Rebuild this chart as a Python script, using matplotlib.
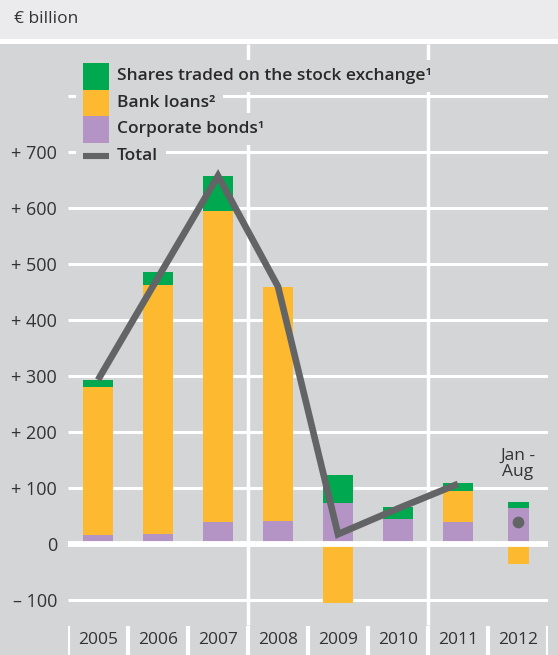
import matplotlib
matplotlib.use("Agg")
import matplotlib.pyplot as plt
from matplotlib.patches import Rectangle
from matplotlib.lines import Line2D
import numpy as np

plt.rcParams['font.family'] = ['Open Sans', 'DejaVu Sans']

# ---- data ----
years = ["2005", "2006", "2007", "2008", "2009", "2010", "2011", "2012"]
corporate_bonds = [16, 17, 39, 41, 72, 44, 39, 64]
bank_loans = [264, 446, 557, 418, -106, 0, 55, -36]
shares = [13, 23, 61, 0, 51, 21, 14, 11]
total_line = [293, 476, 658, 460, 17, 63, 107]   # 2005-2011
total_2012 = 38
yticks = [-100, 0, 100, 200, 300, 400, 500, 600, 700]
ytick_labels = ["\u2013 100", "0", "+ 100", "+ 200", "+ 300", "+ 400", "+ 500", "+ 600", "+ 700"]
legend_labels = ["Shares traded on the stock exchange\u00b9", "Bank loans\u00b2",
                 "Corporate bonds\u00b9", "Total"]

# ---- style ----
W, H = 558, 655
C_GREEN = "#00a84f"
C_ORANGE = "#fdb92f"
C_PURPLE = "#b394c4"
C_LINE = "#636466"
C_BG = "#d4d5d7"
C_HEAD = "#ebebed"
C_TEXT = "#333333"
FS = 12.5

fig = plt.figure(figsize=(W / 100, H / 100), dpi=100)
fig.patch.set_facecolor("white")

def fx(px):
    return px / W

def fy(py):
    return 1 - py / H

# backgrounds
fig.patches.append(Rectangle((0, fy(39)), 1, 39 / H, transform=fig.transFigure,
                             facecolor=C_HEAD, edgecolor="none", zorder=-10))
fig.patches.append(Rectangle((0, 0), 1, (H - 44) / H, transform=fig.transFigure,
                             facecolor=C_BG, edgecolor="none", zorder=-10))
fig.text(fx(14), fy(19), "\u20ac billion", fontsize=FS, color=C_TEXT, va="center", ha="left")

# axes: plot region from x=68..548 px, y=44..655 px
zero_px = 543.7
ppu = 0.559
ytop = (zero_px - 44) / ppu
ybot = -(H - zero_px) / ppu
ax = fig.add_axes([fx(68), 0, fx(480), (H - 44) / H])
ax.set_xlim(-0.5, 7.5)
ax.set_ylim(ybot, ytop)
ax.set_facecolor("none")
for s in ax.spines.values():
    s.set_visible(False)
ax.set_xticks([])
ax.set_yticks(yticks)
ax.set_yticklabels(ytick_labels, fontsize=FS + 0.5, color=C_TEXT)
ax.tick_params(axis="y", length=0, pad=8)

# gridlines
for v in [-100, 100, 200, 300, 400, 500, 600, 700, 800]:
    ax.hlines(v, -0.5, 7.5, color="white", lw=2.2, zorder=1)
ax.hlines(0, -0.5, 7.5, color="white", lw=4.2, zorder=4)

# vertical separators
y_vend = -(625 - zero_px) / ppu
for xv in [2.5, 5.5]:
    ax.vlines(xv, y_vend, ytop, color="white", lw=2.5, zorder=1)
y_sep = -(626 - zero_px) / ppu
for xv in np.arange(-0.5, 8, 1.0):
    ax.vlines(xv, ybot, y_sep, color="white", lw=3, zorder=1)

# bars
x = np.arange(len(years))
widths = [0.5] * 7 + [0.35]
pos_bottom = np.zeros(len(years))
neg_bottom = np.zeros(len(years))
for vals, col in [(corporate_bonds, C_PURPLE), (bank_loans, C_ORANGE), (shares, C_GREEN)]:
    vals = np.array(vals, dtype=float)
    bottoms = np.where(vals >= 0, pos_bottom, neg_bottom)
    ax.bar(x, vals, width=widths, bottom=bottoms, color=col, edgecolor="none", zorder=3)
    pos_bottom = pos_bottom + np.where(vals > 0, vals, 0)
    neg_bottom = neg_bottom + np.where(vals < 0, vals, 0)

# total line
ax.plot(x[:7], total_line, color=C_LINE, lw=4.8, zorder=5, solid_joinstyle="miter",
        solid_capstyle="butt")
ax.plot([x[7]], [total_2012], marker="o", markersize=7.4, color=C_LINE, zorder=5, lw=0)

# year labels
y_lab = -(640 - zero_px) / ppu
for xi, yr in zip(x, years):
    ax.text(xi, y_lab, yr, ha="center", va="center", fontsize=FS, color=C_TEXT)

ax.text(7, (zero_px - 464) / ppu, "Jan -\nAug", ha="center", va="center", fontsize=FS,
        color=C_TEXT, linespacing=1.05)

# legend
fig.patches.append(Rectangle((fx(76), fy(162)), fx(41), (162 - 60) / H, transform=fig.transFigure,
                             facecolor=C_BG, edgecolor="none", zorder=2))
rows = [(63, 90, C_GREEN), (90, 116, C_ORANGE), (116, 143, C_PURPLE)]
for y0, y1, col in rows:
    fig.patches.append(Rectangle((fx(83), fy(y1)), fx(27), (y1 - y0) / H,
                                 transform=fig.transFigure, facecolor=col,
                                 edgecolor="none", zorder=3))
fig.lines.append(Line2D([fx(83), fx(110)], [fy(156), fy(156)], transform=fig.transFigure,
                        color=C_LINE, lw=4.4, solid_capstyle="butt", zorder=3))
for lab, yc in zip(legend_labels, [76, 103, 129, 156]):
    fig.text(fx(117), fy(yc), lab, fontsize=FS, color="#2a2a2a", va="center", ha="left",
             fontweight="semibold", zorder=3,
             bbox=dict(boxstyle="square,pad=0.45", fc=C_BG, ec="none"))

fig.savefig("out.png", dpi=100)
